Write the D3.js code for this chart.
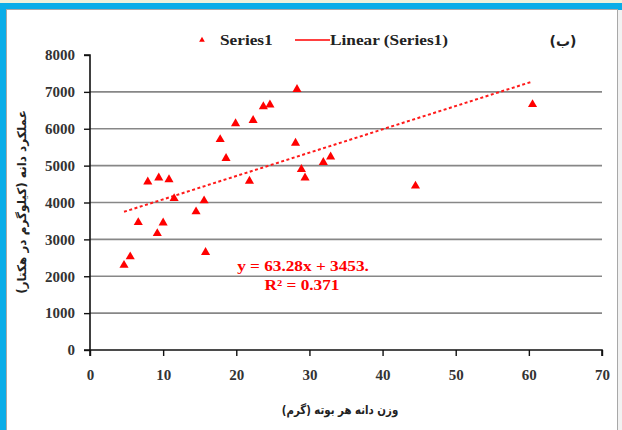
<!DOCTYPE html>
<html><head><meta charset="utf-8">
<script src="https://cdn.jsdelivr.net/npm/d3@7/dist/d3.min.js"></script>
<style>body{margin:0;padding:0;overflow:hidden;background:#fff}</style>
</head><body>
<svg id="c" width="622" height="430"></svg>
<script>
const xVals = [4.65,5.5,6.6,7.9,9.4,9.2,10.0,10.8,11.5,14.5,15.6,15.8,17.8,18.6,19.9,21.8,22.3,23.7,24.6,28.3,28.1,28.9,29.4,31.9,32.9,44.5,60.5];
const yVals = [2300,2530,3460,4560,4670,3160,3450,4620,4110,3750,4050,2650,5710,5200,6140,4580,6230,6600,6650,7070,5610,4900,4670,5090,5240,4450,6660];
const xTicks = [0,10,20,30,40,50,60,70];
const yTicks = [0,1000,2000,3000,4000,5000,6000,7000,8000];
const slope = 63.28, intercept = 3453;
const seriesName = "Series1";
const trendName = "Linear (Series1)";
const eqText = "y = 63.28x + 3453.";
const r2Text = "R\u00B2 = 0.371";
const panelLabel = "(ب)";
const xTitle = "وزن دانه هر بوته (گرم)";
const yTitle = "عملکرد دانه (کیلوگرم در هکتار)";

const svg = d3.select("#c");
// frame
svg.append("rect").attr("x",0).attr("y",0).attr("width",622).attr("height",430).attr("fill","#eef1dc");
svg.append("rect").attr("x",0).attr("y",3).attr("width",622).attr("height",427).attr("fill","#0aade8");
svg.append("rect").attr("x",617).attr("y",10).attr("width",5).attr("height",420).attr("fill","#f2f2f2");
svg.append("rect").attr("x",6.5).attr("y",9.5).attr("width",611).attr("height",425).attr("fill","#fff").attr("stroke","#a8a8a8");

const x = d3.scaleLinear().domain([0,70]).range([90,602]);
const y = d3.scaleLinear().domain([0,8000]).range([350,55]);

// gridlines
svg.append("g").selectAll("line").data(yTicks.filter(d=>d>0 && d<8000)).join("line")
  .attr("x1",x(0)).attr("x2",x(70)).attr("y1",d=>y(d)).attr("y2",d=>y(d))
  .attr("stroke","#878787").attr("stroke-width",1.7);

const tickFont = "'Liberation Serif','Times New Roman',serif";
const xAxis = svg.append("g").attr("transform",`translate(0,${y(0)})`)
  .call(d3.axisBottom(x).tickValues(xTicks).tickSize(6).tickPadding(13).tickFormat(d3.format("d")));
const yAxis = svg.append("g").attr("transform",`translate(${x(0)},0)`)
  .call(d3.axisLeft(y).tickValues(yTicks).tickSize(6).tickPadding(9).tickFormat(d3.format("d")));
[xAxis,yAxis].forEach(a=>{
  a.select(".domain").attr("stroke","#111").attr("stroke-width",1.6);
  a.selectAll(".tick line").attr("stroke","#111").attr("stroke-width",1.4);
  a.selectAll("text").attr("font-family",tickFont).attr("font-weight","bold").attr("font-size",15).attr("fill","#333");
});
xAxis.select(".domain").attr("d",`M${x(0)},6V0H${x(70)}V6`);
yAxis.select(".domain").attr("d",`M-6,${y(8000)}H0V${y(0)}H-6`);

// trendline
const xMin = d3.min(xVals), xMax = d3.max(xVals);
svg.append("line")
  .attr("x1",x(xMin)).attr("y1",y(slope*xMin+intercept))
  .attr("x2",x(xMax)).attr("y2",y(slope*xMax+intercept))
  .attr("stroke","#ff1a1a").attr("stroke-width",2).attr("stroke-dasharray","3,2.5");

// points
const tri = d3.symbol().type(d3.symbolTriangle).size(36);
svg.append("g").selectAll("path").data(xVals.map((v,i)=>[v,yVals[i]])).join("path")
  .attr("d",tri).attr("transform",d=>`translate(${x(d[0])},${y(d[1])})`).attr("fill","#ff0000");

function stext(px,py,s,anchor,fill,str,size){
  svg.append("text").attr("transform",`translate(${px},${py}) scale(${s},1)`).attr("text-anchor",anchor)
    .attr("font-family",tickFont).attr("font-weight","bold").attr("font-size",size).attr("fill",fill).text(str);
}
// equation
stext(303,271,1.15,"middle","#ff0000",eqText,15);
stext(302,290,1.15,"middle","#ff0000",r2Text,15);

// legend
svg.append("path").attr("d",d3.symbol().type(d3.symbolTriangle).size(14)).attr("transform","translate(202,40)").attr("fill","#ff0000");
stext(220,45,1.15,"start","#222",seriesName,15);
svg.append("line").attr("x1",295).attr("x2",330).attr("y1",40).attr("y2",40).attr("stroke","#ff0000").attr("stroke-width",1.6);
stext(330,45,1.15,"start","#222",trendName,15);
svg.append("text").attr("x",563).attr("y",46).attr("text-anchor","middle").attr("font-family","'DejaVu Sans',sans-serif").attr("font-weight","bold").attr("font-size",14).attr("fill","#222").text(panelLabel);

// axis titles
svg.append("text").attr("transform","translate(340,414) scale(0.85,1)").attr("text-anchor","middle").attr("direction","rtl")
  .attr("font-family","'DejaVu Sans',sans-serif").attr("font-weight","bold").attr("font-size",12).attr("fill","#222").text(xTitle);
svg.append("text").attr("transform","translate(26,202) rotate(-90)").attr("text-anchor","middle").attr("direction","rtl")
  .attr("font-family","'DejaVu Sans',sans-serif").attr("font-weight","bold").attr("font-size",12).attr("fill","#222").text(yTitle);
</script>
</body></html>
